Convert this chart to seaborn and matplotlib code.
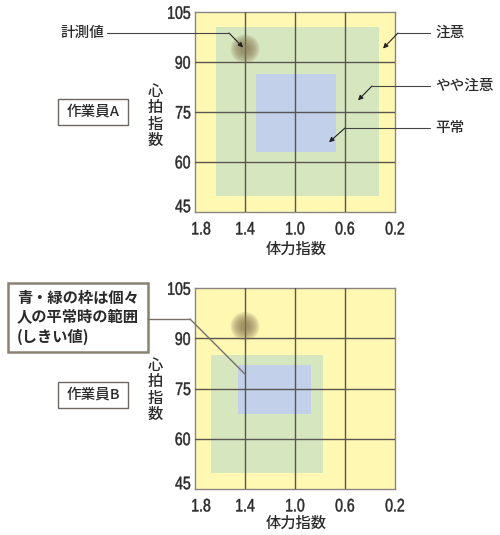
import matplotlib
matplotlib.use("Agg")
import matplotlib.pyplot as plt
import matplotlib.patches as mpatches
import matplotlib.transforms as mtransforms
from matplotlib.lines import Line2D
from matplotlib.patheffects import AbstractPathEffect
import seaborn as sns
import pandas as pd

sns.set_theme(style="white")
plt.rcParams['font.family'] = ['Noto Sans CJK JP', 'DejaVu Sans']

# ---------------- data ----------------
x_ticks = [1.8, 1.4, 1.0, 0.6, 0.2]
y_ticks = [45, 60, 75, 90, 105]
x_label = "体力指数"
y_label = "心拍指数"

# zones: (x_hi, x_lo, y_lo, y_hi)
workerA_name = "作業員A"
workerA_green = [1.63, 0.33, 49.8, 100.6]
workerA_blue = [1.31, 0.67, 63.0, 86.5]
workerA_point_x = [1.4]
workerA_point_y = [94.0]

workerB_name = "作業員B"
workerB_green = [1.67, 0.78, 49.7, 85.0]
workerB_blue = [1.46, 0.87, 67.5, 82.0]
workerB_point_x = [1.4]
workerB_point_y = [93.6]

zone_labels = ["注意", "やや注意", "平常"]
point_label = "計測値"
note_lines = ["青・緑の枠は個々", "人の平常時の範囲", "(しきい値)"]

# ---------------- style ----------------
W, H = 500, 535
YELLOW = "#FFF8B3"
GREEN = "#D6E6BF"
BLUE = "#C2D0EA"
GRID = "#5a5550"
DOT = "#85744f"
NUMFONT = ['Liberation Sans', 'DejaVu Sans']
TXT = "#2b2b2b"


class Squeeze(AbstractPathEffect):
    """Horizontally condense glyphs (narrow-font look), with a light stroke."""

    def __init__(self, sx=0.8, anchor="center", stroke=0.35):
        super().__init__()
        self.sx = sx
        self.anchor = anchor
        self.stroke = stroke

    def draw_path(self, renderer, gc, tpath, affine, rgbFace=None):
        v = tpath.vertices
        if len(v):
            xmin, xmax = v[:, 0].min(), v[:, 0].max()
        else:
            xmin = xmax = 0
        a = {"left": xmin, "center": (xmin + xmax) / 2, "right": xmax}[self.anchor]
        t = mtransforms.Affine2D().translate(-a, 0).scale(self.sx, 1).translate(a, 0) + affine
        gc0 = renderer.new_gc()
        gc0.copy_properties(gc)
        if rgbFace is not None:
            gc0.set_foreground(rgbFace)
        gc0.set_linewidth(self.stroke)
        renderer.draw_path(gc0, tpath, t, rgbFace)
        gc0.restore()


fig = plt.figure(figsize=(W / 100, H / 100), dpi=100)


def fx(px):
    return px / W


def fy(py):
    return 1 - py / H


def make_axes(top, height, green, blue, px, py):
    ax = fig.add_axes([fx(195), fy(top + height), 200 / W, height / H])
    ax.set_facecolor(YELLOW)
    ax.set_xlim(x_ticks[0], x_ticks[-1])
    ax.set_ylim(y_ticks[0], y_ticks[-1])
    ax.fill_between([green[0], green[1]], green[2], green[3], color=GREEN, lw=0, zorder=1)
    ax.fill_between([blue[0], blue[1]], blue[2], blue[3], color=BLUE, lw=0, zorder=2)
    for v in x_ticks[1:-1]:
        ax.axvline(v, color=GRID, lw=1.0, zorder=3)
    for v in y_ticks[1:-1]:
        ax.axhline(v, color=GRID, lw=1.0, zorder=3)
    # glowing dot
    df = pd.DataFrame({"x": px, "y": py})
    for i, s in enumerate([430, 340, 260, 190, 130, 80, 45]):
        sns.scatterplot(data=df, x="x", y="y", s=s, color=DOT, alpha=0.17,
                        edgecolor="none", linewidth=0, ax=ax, zorder=4 + i, legend=False)
    ax.set_xticks(x_ticks)
    ax.set_yticks(y_ticks)
    ax.set_xticklabels([f"{v:.1f}" for v in x_ticks], family=NUMFONT, fontsize=13, color=TXT)
    ax.set_yticklabels([str(v) for v in y_ticks], family=NUMFONT, fontsize=13, color=TXT)
    ax.tick_params(axis="both", length=0)
    ax.tick_params(axis="x", pad=7)
    ax.tick_params(axis="y", pad=3)
    for lab in ax.get_xticklabels():
        lab.set_path_effects([Squeeze(0.78, "center")])
    for lab in ax.get_yticklabels():
        lab.set_path_effects([Squeeze(0.78, "right")])
    # nudge edge labels inward as in the original
    xl = ax.get_xticklabels()
    xl[0].set_transform(xl[0].get_transform() + mtransforms.ScaledTranslation(6 / 100, 0, fig.dpi_scale_trans))
    yl = ax.get_yticklabels()
    yl[0].set_transform(yl[0].get_transform() + mtransforms.ScaledTranslation(0, 6 / 100, fig.dpi_scale_trans))
    ax.set_xlabel("")
    ax.set_ylabel("")
    for sp in ax.spines.values():
        sp.set_color("#8a8580")
        sp.set_linewidth(1.0)
    return ax


axA = make_axes(12.3, 199.4, workerA_green, workerA_blue, workerA_point_x, workerA_point_y)
axB = make_axes(288.3, 200.4, workerB_green, workerB_blue, workerB_point_x, workerB_point_y)


def axis_titles(ycenter_ylab, ycenter_xlab):
    fig.text(fx(155), fy(ycenter_ylab), "\n".join(y_label), fontsize=11, color=TXT,
             ha="center", va="center", linespacing=0.95, fontweight="medium")
    fig.text(fx(296), fy(ycenter_xlab), x_label, fontsize=11, color=TXT,
             ha="center", va="center", fontweight="medium")


axis_titles(116, 249)
axis_titles(390, 523)


def worker_box(name, y0, y1):
    fig.add_artist(mpatches.Rectangle((fx(58), fy(y1)), 70 / W, (y1 - y0) / H,
                                      transform=fig.transFigure, facecolor="white",
                                      edgecolor="#6d6863", lw=1.0))
    fig.text(fx(93), fy((y0 + y1) / 2), name, fontsize=10.5, color=TXT,
             ha="center", va="center", fontweight="medium")


worker_box(workerA_name, 99, 125)
worker_box(workerB_name, 382, 408)


def callout(ax, label, text_x, text_ha, ly, bend_x, tip):
    fig.text(fx(text_x), fy(ly), label, fontsize=10.5, color=TXT, ha=text_ha, va="center",
             fontweight="medium")
    start = text_x + 3 if text_ha == "right" else text_x - 5
    fig.add_artist(Line2D([fx(start), fx(bend_x)], [fy(ly), fy(ly)],
                          transform=fig.transFigure, color="#444", lw=0.8))
    ax.annotate("", xy=tip, xycoords="data", xytext=(fx(bend_x), fy(ly)),
                textcoords="figure fraction",
                arrowprops=dict(arrowstyle="-|>", color="#222", lw=0.8,
                                mutation_scale=7, shrinkA=0, shrinkB=0),
                zorder=20, annotation_clip=False)


callout(axA, point_label, 104, "right", 33, 229, (1.415, 94.4))
callout(axA, zone_labels[0], 435, "left", 33, 398, (0.296, 94.1))
callout(axA, zone_labels[1], 435, "left", 86, 372, (0.496, 78.5))
callout(axA, zone_labels[2], 435, "left", 128, 345, (0.728, 65.9))

# note box (worker B)
fig.add_artist(mpatches.Rectangle((fx(8), fy(352)), 140 / W, 69 / H,
                                  transform=fig.transFigure, facecolor="white",
                                  edgecolor="#8a8173", lw=1.8))
for i, line in enumerate(note_lines):
    fig.text(fx(17), fy(298 + i * 19.5), line, fontsize=11, fontweight="bold",
             color="#2a2a2a", ha="left", va="center")
fig.add_artist(Line2D([fx(148), fx(190)], [fy(319), fy(319)],
                      transform=fig.transFigure, color="#7a7065", lw=1.0))
axB.annotate("", xy=(1.4, 79.3), xycoords="data", xytext=(fx(190), fy(319)),
             textcoords="figure fraction",
             arrowprops=dict(arrowstyle="-", color="#7a7065", lw=1.0,
                             shrinkA=0, shrinkB=0),
             zorder=20, annotation_clip=False)

fig.savefig("out.png", dpi=100, facecolor="white")
